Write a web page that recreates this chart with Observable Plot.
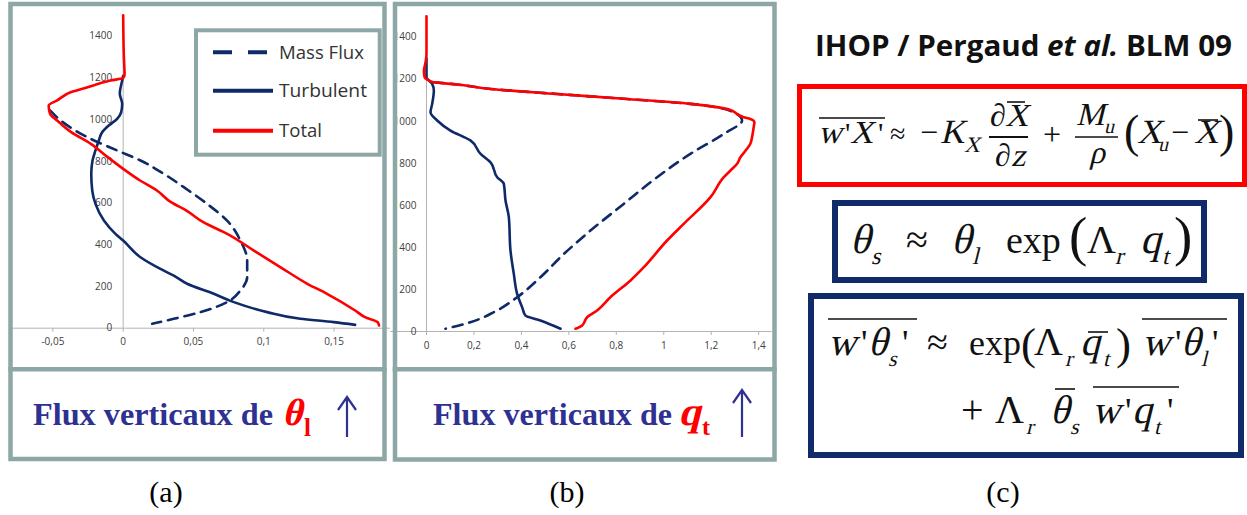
<!DOCTYPE html>
<html><head><meta charset="utf-8">
<script src="https://cdn.jsdelivr.net/npm/d3@7"></script>
<script src="https://cdn.jsdelivr.net/npm/@observablehq/plot@0.6"></script>
<style>
html,body{margin:0;padding:0;background:#fff;}
#wrap{position:relative;width:1247px;height:515px;overflow:hidden;background:#fff;}
#wrap > *{position:absolute;}
</style></head><body><div id="wrap"></div>
<script>
// ---------------- DATA ----------------
// (a) vertical fluxes of theta_l : heights (m) and flux values
const aTotalZ = [1500,1300,1215,1200,1187,1152,1132,1092,1068,1028,996,940,884,820,764,708,660,604,564,508,452,372,292,213,165,85,53,29,13];
const aTotalV = [0,0.0005,0.001,0,-0.009,-0.027,-0.037,-0.047,-0.053,-0.052,-0.047,-0.037,-0.023,-0.011,0,0.012,0.024,0.034,0.045,0.057,0.074,0.093,0.112,0.131,0.145,0.165,0.172,0.181,0.182];
const aTurbZ = [1210,1187,1124,1076,1036,1004,972,940,900,852,804,740,660,596,516,452,420,340,284,252,213,165,125,77,45,29,16];
const aTurbV = [0,-0.0007,-0.0024,-0.0007,-0.0014,-0.0043,-0.0102,-0.0149,-0.0173,-0.0197,-0.0218,-0.0227,-0.022,-0.0197,-0.0137,-0.0055,0,0.0123,0.0265,0.036,0.0455,0.0645,0.0787,0.1024,0.126,0.1498,0.165];
const aMassZ = [1044,996,916,852,804,740,676,596,516,420,324,245,181,125,77,45,21];
const aMassV = [-0.052,-0.0445,-0.0256,-0.0043,0.0123,0.0289,0.0431,0.0597,0.0739,0.0834,0.0882,0.0882,0.0834,0.0739,0.055,0.036,0.0206];
const aXTicks = [-0.05,0,0.05,0.1,0.15];
const aYTicks = [0,200,400,600,800,1000,1200,1400];

// (b) vertical fluxes of q_t
const bTotalZ = [1500,1320,1280,1240,1210,1195,1186,1175,1154,1130,1107,1083,1054,1035,1019,1011,996,972,924,893,869,829,798,766,734,639,512,433,306,243,163,100,68,29,13];
const bTotalV = [0,0,-0.004,-0.011,-0.008,0.01,0.031,0.129,0.27,0.551,0.831,1.112,1.281,1.309,1.337,1.365,1.382,1.379,1.372,1.365,1.351,1.323,1.309,1.281,1.253,1.197,1.084,1.014,0.916,0.86,0.775,0.719,0.677,0.656,0.628];
const bTurbZ = [1300,1210,1178,1146,1083,1043,1004,956,909,845,805,734,702,623,544,385,274,179,116,76,52,13];
const bTurbV = [0,0,0.024,0.031,0.024,0.017,0.045,0.101,0.185,0.228,0.27,0.298,0.326,0.333,0.347,0.354,0.368,0.382,0.403,0.417,0.48,0.565];
const bMassZ = [1186,1175,1154,1130,1107,1083,1043,1004,940,845,734,607,480,369,258,163,92,44,13];
const bMassV = [0.031,0.129,0.27,0.551,0.831,1.112,1.295,1.33,1.253,1.112,0.972,0.831,0.691,0.579,0.48,0.382,0.284,0.185,0.08];
const bXTicks = [0,0.2,0.4,0.6,0.8,1,1.2,1.4];
const bYTicks = [0,200,400,600,800,1000,1200,1400];

const seriesNames = ["Mass Flux","Turbulent","Total"];

// ---------------- STYLE ----------------
const navy = "#0f2a68", red = "#ff0000", axisGray = "#b3b3b3", labelGray = "#404040";
const frameCol = "#8da6a6", boxNavy = "#112a6a", textNavy = "#2e3192";
const serif = "'Liberation Serif','Times New Roman',serif";
const sans = "'Open Sans','Liberation Sans',sans-serif";
const fmt = d => d === 0 ? "0" : String(d).replace(".", ",");
const rows = (Z, V) => Z.map((z, i) => ({z, v: V[i]}));

function chart(cfg) {
  return Plot.plot({
    width: 390, height: 370,
    marginLeft: cfg.ml, marginRight: cfg.mr, marginTop: cfg.mt, marginBottom: cfg.mb,
    x: {domain: cfg.xd},
    y: {domain: [0, 1500], axis: null},
    style: {background: "transparent", overflow: "visible", fontFamily: sans},
    marks: [
      Plot.ruleX([0], {stroke: axisGray, strokeWidth: 1}),
      Plot.ruleY([0], {stroke: axisGray, strokeWidth: 1}),
      Plot.axisX({anchor: "bottom", ticks: cfg.xt, tickFormat: fmt, tickSize: 4, tickPadding: 6,
                  fontSize: 10, stroke: axisGray, fill: labelGray, label: null}),
      Plot.text(cfg.yt, {x: 0, y: d => d, text: d => String(d), dx: cfg.ydx, textAnchor: "end",
                         fontSize: 10, fill: labelGray}),
      Plot.line(rows(cfg.mz, cfg.mv), {x: "v", y: "z", stroke: navy, strokeWidth: 2.6,
                strokeDasharray: "10,7", curve: "monotone-y"}),
      Plot.line(rows(cfg.uz, cfg.uv), {x: "v", y: "z", stroke: navy, strokeWidth: 2.6, curve: "monotone-y"}),
      Plot.line(rows(cfg.tz, cfg.tv), {x: "v", y: "z", stroke: red, strokeWidth: 2.6, curve: "monotone-y"})
    ]
  });
}

const wrap = document.getElementById("wrap");
const cA = chart({ml: 10.2, mr: 0.2, mt: 14.8, mb: 42.3, xd: [-0.08, 0.19], xt: aXTicks, yt: aYTicks, ydx: -11,
  mz: aMassZ, mv: aMassV, uz: aTurbZ, uv: aTurbV, tz: aTotalZ, tv: aTotalV});
cA.style.left = "0px"; cA.style.top = "0px";
wrap.appendChild(cA);
const cB = chart({ml: 0.4, mr: 8.3, mt: 15.7, mb: 39, xd: [-0.15, 1.457], xt: bXTicks, yt: bYTicks, ydx: -10,
  mz: bMassZ, mv: bMassV, uz: bTurbZ, uv: bTurbV, tz: bTotalZ, tv: bTotalV});
cB.style.left = "390px"; cB.style.top = "0px";
wrap.appendChild(cB);

// ---------------- OVERLAY ----------------
const svg = d3.create("svg").attr("width", 1247).attr("height", 515)
  .style("left", "0px").style("top", "0px").style("pointer-events", "none");
wrap.appendChild(svg.node());

// italics are drawn as a slanted upright serif so the glyphs stay Times-like
function txt(x, y, s, o = {}) {
  const t = svg.append("text").text(s)
    .attr("font-family", o.ff || serif).attr("font-size", o.fs || 16)
    .attr("fill", o.fill || "#000");
  if (o.it) t.attr("transform", `translate(${x},${y}) skewX(-14)`).attr("x", 0).attr("y", 0);
  else t.attr("x", x).attr("y", y);
  if (o.bold) t.attr("font-weight", "bold");
  if (o.anchor) t.attr("text-anchor", o.anchor);
  if (o.len) t.attr("textLength", o.len).attr("lengthAdjust", "spacingAndGlyphs");
  return t;
}
function hline(x1, x2, y, col = "#000", w = 1.6) {
  svg.append("line").attr("x1", x1).attr("x2", x2).attr("y1", y).attr("y2", y)
    .attr("stroke", col).attr("stroke-width", w);
}
function box(x, y, w, h, col, sw, fill = "none") {
  svg.append("rect").attr("x", x).attr("y", y).attr("width", w).attr("height", h)
    .attr("fill", fill).attr("stroke", col).attr("stroke-width", sw);
}
function arrow(x, y0, y1) {
  svg.append("path").attr("d", `M${x},${y1}L${x},${y0}M${x-9},${y0+13}L${x},${y0}L${x+9},${y0+13}`)
    .attr("fill", "none").attr("stroke", textNavy).attr("stroke-width", 2.2);
}

// panel frames
box(10.5, 4, 374, 455, frameCol, 4.5);
hline(8.3, 386.7, 369.3, frameCol, 4.5);
box(395, 4, 379.5, 455.5, frameCol, 4.5);
hline(392.7, 776.7, 369.3, frameCol, 4.5);

// legend (a)
box(196, 30.3, 183.7, 124.4, frameCol, 4, "#fff");
const legY = [52.3, 90.7, 130.7];
const legStyle = [{c: navy, d: "19,16"}, {c: navy, d: null}, {c: red, d: null}];
const legLen = [85, 88, 43];
seriesNames.forEach((n, i) => {
  const l = svg.append("line").attr("x1", 213).attr("x2", 273).attr("y1", legY[i]).attr("y2", legY[i])
    .attr("stroke", legStyle[i].c).attr("stroke-width", 4);
  if (legStyle[i].d) l.attr("stroke-dasharray", legStyle[i].d);
  txt(279, legY[i] + 6.3, n, {ff: sans, fs: 18, fill: "#333", len: legLen[i]});
});

// panel captions
txt(33, 425, "Flux verticaux de", {fs: 32, bold: true, fill: textNavy, len: 240});
txt(282, 425, "θ", {fs: 38, bold: true, it: true, fill: red});
txt(304, 436, "l", {fs: 25, bold: true, fill: red});
arrow(347, 397, 437);
txt(433, 425, "Flux verticaux de", {fs: 32, bold: true, fill: textNavy, len: 239});
txt(678, 425, "q", {fs: 40, bold: true, it: true, fill: red});
txt(702, 435, "t", {fs: 24, bold: true, fill: red});
arrow(742, 390, 437);

txt(166, 502, "(a)", {fs: 30, anchor: "middle"});
txt(567, 502, "(b)", {fs: 30, anchor: "middle"});
txt(1003, 502, "(c)", {fs: 30, anchor: "middle"});

// panel (c)
const title = txt(815, 56, "", {ff: sans, fs: 28, bold: true, fill: "#111", len: 417});
title.append("tspan").text("IHOP / Pergaud ");
title.append("tspan").attr("font-style", "italic").text("et al.");
title.append("tspan").text(" BLM 09");

box(799.5, 86.5, 445, 98, red, 5);
box(835, 203, 369, 77, boxNavy, 6);
box(811, 296, 430, 159, boxNavy, 6);

const I = true;
const eq = [
  // box 1
  ["w",818,143,33,I],["'",845,143,30],["X",850,143,32,I],["'",878,143,30],
  ["≈",890,143,28],["−",920,143,32],["K",940,143,34,I],["X",964,152,22,I],
  ["∂",990,126,32],["X",1005,126,32,I],["∂",995,166,32],["z",1011,166,32,I],
  ["+",1043,145,32],["M",1076,125,32,I],["u",1104,133,20,I],["ρ",1089,163,32,I],
  ["(",1124,147,46],["X",1137,143,34,I],["u",1158,151,20,I],["−",1171,143,32],["X",1194,143,34,I],[")",1219,147,46],
  // box 2
  ["θ",850,253,42,I],["s",871,264,24,I],["≈",906,253,40],["θ",951,253,42,I],["l",972,264,24,I],
  ["exp",1006,253,38],["(",1069,255,55],["Λ",1087,253,40],["r",1115,264,24,I],["q",1140,253,42,I],["t",1162,264,24,I],[")",1174,255,55],
  // box 3, line 1
  ["w",828,355,39,I],["'",861,355,36],["θ",868,355,40,I],["s",888,366,22,I],["'",902,355,36],
  ["≈",927,355,38],["exp",969,355,36],["(",1021,359,45],["Λ",1034,355,40],["r",1065,366,22,I],
  ["q",1080,355,40,I],["t",1103,366,22,I],[")",1116,359,45],
  ["w",1142,355,39,I],["'",1175,355,36],["θ",1181,355,40,I],["l",1201,366,22,I],["'",1212,355,36],
  // box 3, line 2
  ["+",961,423,40],["Λ",995,423,40],["r",1026,434,22,I],["θ",1050,423,40,I],["s",1070,434,22,I],
  ["w",1092,423,39,I],["'",1125,423,36],["q",1132,423,40,I],["t",1154,434,22,I],["'",1167,423,36]
];
eq.forEach(([s, x, y, fs, it]) => txt(x, y, s, {fs, it: !!it, fill: "#111"}));
[[819,885,118],[1007,1025,102],[1075,1118,137],[1198,1218,120],
 [828,917,319],[1088,1108,332],[1142,1227,319],[1055,1075,389],[1093,1179,387]]
  .forEach(([a, b, y]) => hline(a, b, y, "#111", 1.6));
hline(989, 1028, 137, "#111", 1.8);
</script></body></html>
